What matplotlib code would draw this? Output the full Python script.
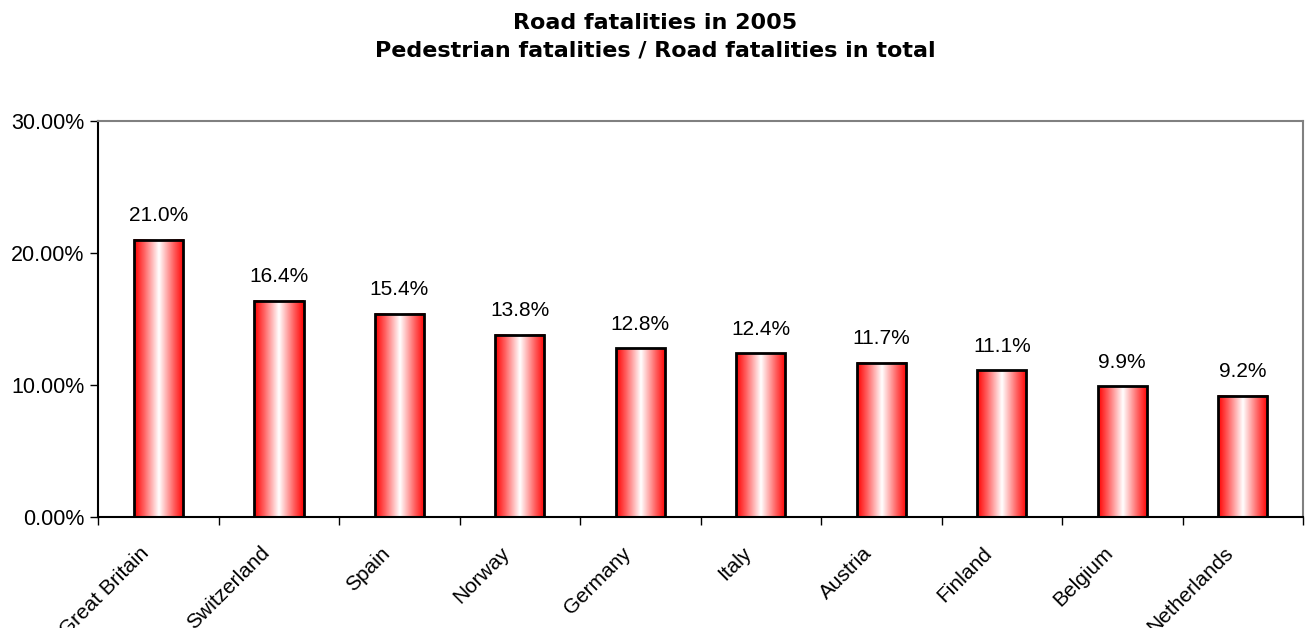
import numpy as np
import matplotlib.pyplot as plt
from matplotlib.colors import LinearSegmentedColormap
from matplotlib.ticker import FuncFormatter

plt.rcParams['font.family'] = ['Liberation Sans', 'DejaVu Sans']

countries = ["Great Britain", "Switzerland", "Spain", "Norway", "Germany",
             "Italy", "Austria", "Finland", "Belgium", "Netherlands"]
share = [21.0, 16.4, 15.4, 13.8, 12.8, 12.4, 11.7, 11.1, 9.9, 9.2]

fig = plt.figure(figsize=(13.11, 6.28), dpi=100)
ax = fig.add_axes([0.0748, 0.1768, 0.9191, 0.6305])

# red - white - red horizontal gradient for the bars
cmap = LinearSegmentedColormap.from_list(
    "redwhite", [(0, "#ff0000"), (0.2, "#ff6060"), (0.5, "#ffffff"),
                 (0.8, "#ff6060"), (1, "#ff0000")])
grad = np.linspace(0, 1, 256).reshape(1, -1)

x = np.arange(len(countries)) + 0.5
width = 0.41
bars = ax.bar(x, share, width=width, facecolor="none", edgecolor="black",
              linewidth=2, zorder=3)
for b in bars:
    x0, y0 = b.get_x(), b.get_y()
    ax.imshow(grad, cmap=cmap, aspect="auto", zorder=2,
              extent=[x0, x0 + b.get_width(), y0, y0 + b.get_height()])

for xi, v in zip(x, share):
    ax.text(xi, v + 1.1, f"{v:.1f}%", ha="center", va="bottom", fontsize=15)

ax.set_xlim(0, len(countries))
ax.set_ylim(0, 30)
ax.set_yticks([0, 10, 20, 30])
ax.yaxis.set_major_formatter(FuncFormatter(lambda v, p: f"{v:.2f}%"))
ax.tick_params(axis="y", labelsize=15.5, length=6, width=1, pad=4)

# category labels at centers, tick marks at boundaries
ax.set_xticks(x - 0.16)
ax.set_xticklabels(countries, rotation=45, ha="right", rotation_mode="anchor",
                   fontsize=15)
ax.tick_params(axis="x", which="major", length=0, pad=19)
ax.set_xticks(np.arange(len(countries) + 1), minor=True)
ax.tick_params(axis="x", which="minor", length=6, width=1)

ax.spines["left"].set_color("black")
ax.spines["bottom"].set_color("black")
ax.spines["top"].set_color("#808080")
ax.spines["right"].set_color("#808080")
for s in ax.spines.values():
    s.set_linewidth(1.5)

fig.text(0.5, 0.98, "Road fatalities in 2005\nPedestrian fatalities / Road fatalities in total",
         ha="center", va="top", fontsize=16, fontweight="bold",
         family="DejaVu Sans", linespacing=1.5)

fig.savefig("out.png", dpi=100)
